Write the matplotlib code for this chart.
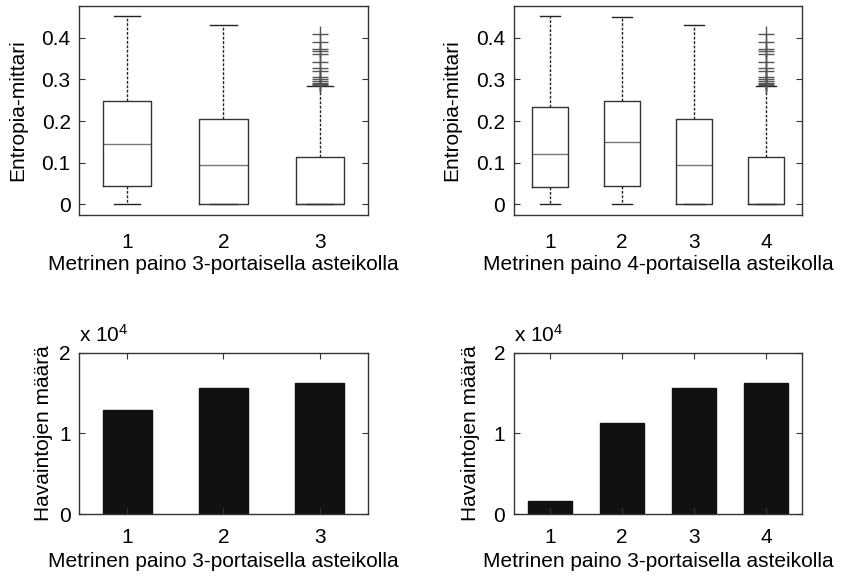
import matplotlib
matplotlib.use("Agg")
import matplotlib.pyplot as plt
from matplotlib.ticker import FuncFormatter

plt.rcParams["font.family"] = ["Liberation Sans", "DejaVu Sans"]
plt.rcParams["mathtext.fontset"] = "custom"
plt.rcParams["mathtext.rm"] = "Liberation Sans"
plt.rcParams["mathtext.it"] = "Liberation Sans"

# Box plot statistics (Entropia-mittari), 3-level scale
box3_med = [0.144, 0.094, 0.0]
box3_q1 = [0.044, 0.0, 0.0]
box3_q3 = [0.247, 0.206, 0.114]
box3_lo = [0.0, 0.0, 0.0]
box3_hi = [0.452, 0.430, 0.284]

# 4-level scale
box4_med = [0.122, 0.150, 0.094, 0.0]
box4_q1 = [0.0415, 0.044, 0.0, 0.0]
box4_q3 = [0.233, 0.247, 0.206, 0.114]
box4_lo = [0.0, 0.0, 0.0, 0.0]
box4_hi = [0.452, 0.450, 0.430, 0.284]

# outliers of the last group (same in both plots)
outliers = [0.409, 0.390, 0.373, 0.368, 0.362, 0.341, 0.328, 0.320,
            0.306, 0.300, 0.296, 0.292, 0.288, 0.286]

# Observation counts
counts3 = [12900, 15650, 16270]
counts4 = [1610, 11310, 15650, 16270]

FS = 15
XLAB3 = "Metrinen paino 3-portaisella asteikolla"
XLAB4 = "Metrinen paino 4-portaisella asteikolla"


def style_axes(ax):
    for s in ax.spines.values():
        s.set_color("#333333")
        s.set_linewidth(1.0)
    ax.tick_params(direction="in", length=4, width=0.8, color="#333333",
                   labelsize=FS, top=True, right=True)


def draw_box(ax, med, q1, q3, lo, hi, xlabel):
    n = len(med)
    stats = []
    for i in range(n):
        fl = outliers if i == n - 1 else []
        stats.append(dict(med=med[i], q1=q1[i], q3=q3[i],
                          whislo=lo[i], whishi=hi[i], fliers=fl))
    ax.bxp(stats, positions=range(1, n + 1), widths=0.5, capwidths=0.27,
           boxprops=dict(color="#333333", linewidth=1.0, zorder=3),
           medianprops=dict(color="#777777", linewidth=1.0, zorder=2),
           whiskerprops=dict(color="#222222", linewidth=1.0,
                             linestyle=(0, (2, 1.2))),
           capprops=dict(color="#222222", linewidth=1.0),
           flierprops=dict(marker="+", markersize=12, markeredgecolor="#555555",
                           markeredgewidth=1.0, linestyle="none"))
    ax.set_xlim(0.5, n + 0.5)
    ax.set_ylim(-0.0255, 0.476)
    ax.set_yticks([0, 0.1, 0.2, 0.3, 0.4])
    ax.set_yticklabels(["0", "0.1", "0.2", "0.3", "0.4"])
    ax.set_xticks(range(1, n + 1))
    ax.set_xticklabels([str(i) for i in range(1, n + 1)])
    style_axes(ax)
    ax.tick_params(axis="x", length=0, pad=13)
    ax.tick_params(axis="y", pad=6)
    ax.set_xlabel(xlabel, fontsize=FS)
    ax.xaxis.set_label_coords(0.5, -0.19)
    ax.set_ylabel("Entropia-mittari", fontsize=FS)
    ax.yaxis.set_label_coords(-0.18, 0.5)


def draw_bar(ax, counts, width, ylab_x):
    n = len(counts)
    ax.bar(range(1, n + 1), counts, width=width, color="#111111",
           edgecolor="#111111")
    ax.set_xlim(0.5, n + 0.5)
    ax.set_ylim(0, 20000)
    ax.set_yticks([0, 10000, 20000])
    ax.yaxis.set_major_formatter(FuncFormatter(lambda v, p: f"{v / 1e4:g}"))
    ax.set_xticks(range(1, n + 1))
    style_axes(ax)
    ax.tick_params(axis="x", pad=10)
    ax.tick_params(axis="y", pad=6)
    ax.text(0.0, 1.07, r"x 10$^4$", transform=ax.transAxes, fontsize=FS,
            ha="left", va="baseline")
    ax.set_xlabel(XLAB3, fontsize=FS)
    ax.xaxis.set_label_coords(0.5, -0.235)
    ax.set_ylabel("Havaintojen määrä", fontsize=FS)
    ax.yaxis.set_label_coords(ylab_x, 0.5)


fig = plt.figure(figsize=(8.41, 5.78), dpi=100)
ax1 = fig.add_axes([0.0939, 0.628, 0.3437, 0.3616])
ax2 = fig.add_axes([0.6108, 0.628, 0.3432, 0.3616])
ax3 = fig.add_axes([0.0939, 0.1107, 0.3437, 0.279])
ax4 = fig.add_axes([0.6108, 0.1107, 0.3432, 0.279])

draw_box(ax1, box3_med, box3_q1, box3_q3, box3_lo, box3_hi, XLAB3)
draw_box(ax2, box4_med, box4_q1, box4_q3, box4_lo, box4_hi, XLAB4)
draw_bar(ax3, counts3, 0.51, -0.09)
draw_bar(ax4, counts4, 0.61, -0.117)

fig.savefig("out.png", dpi=100)
